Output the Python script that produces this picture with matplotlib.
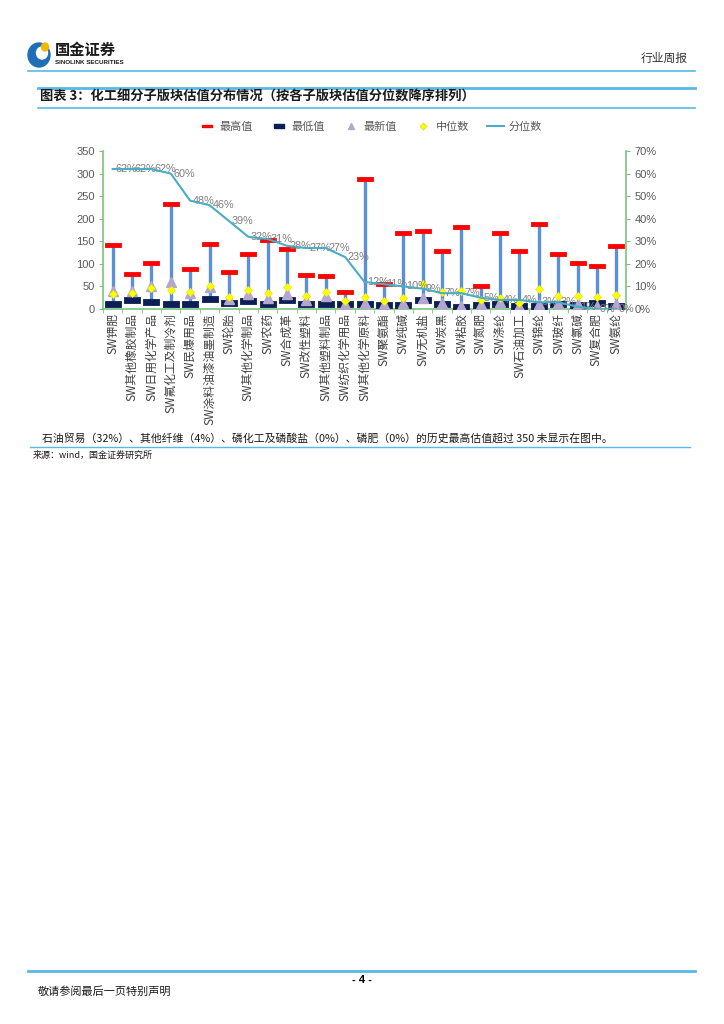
import numpy as np
import matplotlib.pyplot as plt
from matplotlib.lines import Line2D
from matplotlib.patches import Ellipse

plt.rcParams['font.family'] = ['Liberation Sans', 'Noto Sans CJK SC', 'DejaVu Sans']

# 子版块（按估值分位数降序）
names = ['SW钾肥', 'SW其他橡胶制品', 'SW日用化学产品', 'SW氟化工及制冷剂', 'SW民爆用品',
         'SW涂料油漆油墨制造', 'SW轮胎', 'SW其他化学制品', 'SW农药', 'SW合成革',
         'SW改性塑料', 'SW其他塑料制品', 'SW纺织化学用品', 'SW其他化学原料', 'SW聚氨酯',
         'SW纯碱', 'SW无机盐', 'SW炭黑', 'SW粘胶', 'SW氮肥', 'SW涤纶', 'SW石油加工',
         'SW锦纶', 'SW玻纤', 'SW氯碱', 'SW复合肥', 'SW氨纶']
high = [142, 78, 102, 232, 88, 145, 82, 122, 153, 134, 76, 73, 37,
        287, 56, 169, 173, 128, 181, 50, 169, 128, 189, 122, 102, 96, 139]
low = [10, 20, 15, 11, 12, 22, 14, 18, 12, 20, 12, 10, 10,
       10, 8, 8, 21, 10, 4, 8, 11, 6, 7, 11, 9, 13, 7]
latest = [39, 39, 50, 59, 35, 48, 23, 33, 24, 33, 21, 28, 10,
          13, 10, 13, 24, 13, 6, 11, 15, 7, 11, 13, 10, 7, 10]
median = [33, 35, 46, 41, 37, 52, 26, 43, 35, 48, 29, 37, 17,
          27, 18, 25, 55, 38, 40, 21, 25, 13, 44, 29, 28, 27, 30]
pct = [62, 62, 62, 60, 48, 46, 39, 32, 31, 28, 27, 27, 23,
       12, 11, 10, 9, 7, 7, 5, 4, 4, 3, 3, 1, 0, 0]

W, H = 724, 1024
def fx(px):
    return px / W
def fy(py):
    return 1 - py / H

fig = plt.figure(figsize=(7.24, 10.24), dpi=100)

green = '#7cc47c'
gray = '#595959'
blue_line = '#56b9e8'

ax = fig.add_axes([fx(103), fy(309), (626 - 103) / W, (309 - 151) / H])
x = np.arange(len(names))
ax.vlines(x, low, high, color='#5b8fd6', lw=2.4, zorder=2)
bar_mk = [(-1, -0.3), (1, -0.3), (1, 0.3), (-1, 0.3), (-1, -0.3)]
low_mk = [(-1, -0.36), (1, -0.36), (1, 0.36), (-1, 0.36), (-1, -0.36)]
ax.plot(x, high, ls='none', marker=bar_mk, ms=11, mew=0.6, color='#ff0000', zorder=3)
ax.plot(x, low, ls='none', marker=low_mk, ms=12, mew=0.6, color='#0c1f55', zorder=3)
ax.plot(x, latest, ls='none', marker='^', ms=6.5, color='#b3a6cf', zorder=4)
ax.plot(x, median, ls='none', marker='D', ms=4.3, color='#ffff00', mec='#e8e800', mew=0.5, zorder=5)

ax.set_xlim(-0.5, len(names) - 0.5)
ax.set_ylim(0, 350)
ax.set_yticks(range(0, 351, 50))
ax.set_xticks(x)
ax.set_xticklabels(names, rotation=90, fontsize=8.5, color='#404040',
                   family=['Noto Sans CJK SC', 'DejaVu Sans'])
ax.set_xticks(np.arange(-0.5, len(names)), minor=True)
ax.tick_params(axis='x', which='major', length=0, pad=3)
ax.tick_params(axis='x', which='minor', length=3, color=green, direction='out')
ax.tick_params(axis='y', length=3, color=green, labelcolor=gray, labelsize=8, pad=3)
for s in ['top', 'right']:
    ax.spines[s].set_visible(False)
for s in ['left', 'bottom']:
    ax.spines[s].set_color(green)
    ax.spines[s].set_linewidth(1.2)

ax2 = ax.twinx()
pv = np.array(pct) / 100
ax2.plot(x, pv, color='#4bacc6', lw=1.5, zorder=6)
for xi, p in zip(x, pct):
    ax2.annotate(f'{p}%', (xi, p / 100), xytext=(2, 0), textcoords='offset points',
                 ha='left', va='center', fontsize=7.8, color='#7f7f7f')
ax2.set_ylim(0, 0.7)
ax2.set_yticks(np.arange(0, 0.71, 0.1))
ax2.set_yticklabels([f'{v}%' for v in range(0, 71, 10)])
ax2.tick_params(axis='y', length=3, color=green, labelcolor=gray, labelsize=8, pad=3)
for s in ['top', 'left', 'bottom']:
    ax2.spines[s].set_visible(False)
ax2.spines['right'].set_color(green)
ax2.spines['right'].set_linewidth(1.2)

handles = [
    Line2D([], [], ls='none', marker=bar_mk, ms=7, color='#ff0000'),
    Line2D([], [], ls='none', marker=low_mk, ms=7, color='#0c1f55'),
    Line2D([], [], ls='none', marker='^', ms=4.5, color='#b3a6cf'),
    Line2D([], [], ls='none', marker='D', ms=3.5, color='#ffff00', mec='#d8d800', mew=0.5),
    Line2D([], [], color='#4bacc6', lw=1.5),
]
fig.legend(handles, ['最高值', '最低值', '最新值', '中位数', '分位数'], loc='center',
           bbox_to_anchor=(fx(370), fy(127)), ncol=5, frameon=False,
           prop={'family': ['Noto Sans CJK SC'], 'size': 8}, labelcolor=gray,
           handlelength=1.5, handletextpad=0.4, columnspacing=1.6)

# 页眉
fig.add_artist(Ellipse((fx(39), fy(55)), 22 / W, 24 / H, color='#1f6fb8', transform=fig.transFigure))
fig.add_artist(Ellipse((fx(42), fy(53)), 11 / W, 12 / H, color='white', transform=fig.transFigure))
fig.add_artist(Ellipse((fx(45), fy(47)), 7 / W, 8 / H, color='#f5b800', transform=fig.transFigure))
fig.text(fx(55), fy(50), '国金证券', fontsize=11, fontweight='bold', color='#1a1a1a',
         va='center', family=['Noto Sans CJK SC'])
fig.text(fx(55), fy(63), 'SINOLINK SECURITIES', fontsize=4.5, fontweight='bold',
         color='#1a1a1a', va='center')
fig.text(fx(688), fy(58), '行业周报', fontsize=8.5, color='#333333', ha='right', va='center',
         family=['Noto Sans CJK SC'])

def hline(y, x0, x1, lw):
    fig.add_artist(Line2D([fx(x0), fx(x1)], [fy(y), fy(y)], color=blue_line, lw=lw,
                          transform=fig.transFigure))

hline(71, 28, 695, 1.2)
hline(88, 38, 695, 2.0)
hline(108, 38, 695, 1.2)
fig.text(fx(40), fy(97), '图表 3：化工细分子版块估值分布情况（按各子版块估值分位数降序排列）',
         fontsize=9.5, fontweight='bold', color='#1a1a1a', va='center',
         family=['Noto Sans CJK SC', 'DejaVu Sans'], style='italic')

fig.text(fx(42), fy(438), '石油贸易（32%）、其他纤维（4%）、磷化工及磷酸盐（0%）、磷肥（0%）的历史最高估值超过 350 未显示在图中。',
         fontsize=7.8, color='#1a1a1a', va='center', family=['Noto Sans CJK SC', 'DejaVu Sans'])
hline(447, 30, 690, 1.0)
fig.text(fx(33), fy(455), '来源：wind，国金证券研究所', fontsize=6.5, color='#1a1a1a', va='center',
         family=['Noto Sans CJK SC', 'DejaVu Sans'])

hline(971, 28, 695, 2.0)
fig.text(fx(362), fy(980), '- 4 -', fontsize=8, fontweight='bold', ha='center', va='center')
fig.text(fx(38), fy(992), '敬请参阅最后一页特别声明', fontsize=8, color='#1a1a1a', va='center',
         family=['Noto Sans CJK SC', 'DejaVu Sans'])

fig.savefig('out.png', dpi=100)
